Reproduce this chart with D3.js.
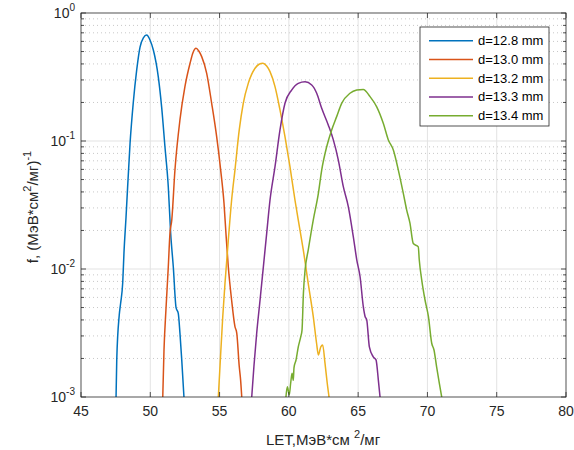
<!DOCTYPE html>
<html>
<head>
<meta charset="utf-8">
<script src="https://cdn.jsdelivr.net/npm/d3@7"></script>
<style>
  body { margin: 0; background: #fff; }
  svg { font-family: "Liberation Sans", Arial, sans-serif; }
</style>
</head>
<body>
<div id="vis"></div>
<script>
// LET values (MeV*cm2/mg) and distribution f for each depth
const let128 = [47.53, 47.58, 47.76, 47.86, 48.01, 48.10, 48.25, 48.54, 48.77, 49.02, 49.26, 49.50, 49.74, 49.98, 50.22, 50.58, 50.82, 51.06, 51.30, 51.47, 51.66, 51.86, 52.02, 52.14, 52.27, 52.43];
const f128 = [0.001, 0.00195, 0.00437, 0.0054, 0.0078, 0.0133, 0.0255, 0.096, 0.198, 0.359, 0.542, 0.640, 0.673, 0.615, 0.514, 0.316, 0.184, 0.0897, 0.0437, 0.0191, 0.0104, 0.0050, 0.0045, 0.00316, 0.00195, 0.001];

const let130 = [50.90, 50.99, 51.13, 51.30, 51.42, 51.55, 51.78, 52.14, 52.50, 52.87, 53.08, 53.30, 53.50, 53.71, 54.07, 54.43, 54.79, 55.08, 55.32, 55.46, 55.63, 55.87, 56.11, 56.24, 56.42, 56.52, 56.60];
const f130 = [0.001, 0.00234, 0.0048, 0.0104, 0.019, 0.0241, 0.0593, 0.146, 0.266, 0.405, 0.490, 0.530, 0.505, 0.456, 0.338, 0.197, 0.108, 0.0593, 0.0326, 0.019, 0.0104, 0.0057, 0.00355, 0.00316, 0.00173, 0.00135, 0.001];

const let132 = [54.91, 55.03, 55.23, 55.39, 55.63, 55.87, 56.11, 56.42, 56.71, 57.07, 57.56, 57.85, 58.13, 58.40, 58.64, 59.00, 59.36, 59.72, 60.08, 60.44, 60.80, 61.04, 61.40, 61.76, 62.00, 62.13, 62.30, 62.44, 62.61, 62.77, 62.90];
const f132 = [0.001, 0.00173, 0.00426, 0.0077, 0.0168, 0.0346, 0.0593, 0.122, 0.197, 0.282, 0.370, 0.398, 0.405, 0.385, 0.348, 0.266, 0.175, 0.108, 0.063, 0.0346, 0.0202, 0.0141, 0.0077, 0.00426, 0.00263, 0.00213, 0.00246, 0.00255, 0.00183, 0.00128, 0.001];

const let133 = [57.32, 57.48, 57.68, 57.92, 58.16, 58.40, 58.64, 59.00, 59.36, 59.72, 60.20, 60.68, 61.17, 61.65, 62.01, 62.37, 62.85, 63.21, 63.57, 63.93, 64.29, 64.65, 64.90, 65.14, 65.37, 65.50, 65.62, 65.81, 66.09, 66.29, 66.46, 66.58];
const f133 = [0.001, 0.00174, 0.00316, 0.0057, 0.0104, 0.019, 0.0346, 0.063, 0.122, 0.197, 0.25, 0.282, 0.290, 0.274, 0.236, 0.18, 0.133, 0.102, 0.071, 0.044, 0.0307, 0.0179, 0.0118, 0.0087, 0.0051, 0.00426, 0.0040, 0.00246, 0.00206, 0.00195, 0.00135, 0.001];

const let134 = [59.79, 59.89, 60.03, 60.13, 60.23, 60.32, 60.37, 60.52, 60.68, 60.86, 60.95, 61.05, 61.17, 61.40, 61.76, 62.13, 62.37, 62.73, 63.09, 63.45, 63.81, 64.41, 64.90, 65.37, 65.86, 66.34, 66.82, 67.18, 67.54, 67.90, 68.26, 68.50, 68.74, 68.98, 69.34, 69.41, 69.59, 69.83, 70.07, 70.31, 70.47, 70.66, 70.86, 71.03];
const f134 = [0.001, 0.0012, 0.00104, 0.00128, 0.00153, 0.00135, 0.00169, 0.00195, 0.00246, 0.00296, 0.00333, 0.00645, 0.0098, 0.0141, 0.0241, 0.039, 0.0593, 0.0902, 0.122, 0.155, 0.197, 0.236, 0.25, 0.253, 0.222, 0.185, 0.137, 0.102, 0.085, 0.0593, 0.039, 0.029, 0.0228, 0.0158, 0.0149, 0.0118, 0.0082, 0.0057, 0.00426, 0.00263, 0.00234, 0.00173, 0.00128, 0.001];

const seriesNames = ["d=12.8 mm", "d=13.0 mm", "d=13.2 mm", "d=13.3 mm", "d=13.4 mm"];
const seriesLet = [let128, let130, let132, let133, let134];
const seriesF = [f128, f130, f132, f133, f134];
const colours = ["#0072BD", "#D95319", "#EDB120", "#7E2F8E", "#77AC30"];

const xTicks = [45, 50, 55, 60, 65, 70, 75, 80];
const yExponents = [0, -1, -2, -3];

const width = 574;
const height = 450;
const plot = { left: 81, right: 566, top: 13, bottom: 397 };
const axisColour = "#262626";

const x = d3.scaleLinear().domain([45, 80]).range([plot.left, plot.right]);
const y = d3.scaleLog().domain([1e-3, 1]).range([plot.bottom, plot.top]);

const svg = d3.select("#vis").append("svg")
  .attr("width", width)
  .attr("height", height);

// minor y grid (dotted)
const minorY = [];
[-3, -2, -1].forEach((e) => {
  for (let m = 2; m <= 9; m++) minorY.push(m * Math.pow(10, e));
});
svg.append("g").selectAll("line").data(minorY).enter().append("line")
  .attr("x1", plot.left).attr("x2", plot.right)
  .attr("y1", (d) => y(d)).attr("y2", (d) => y(d))
  .attr("stroke", "#c8c8c8").attr("stroke-width", 1)
  .attr("stroke-dasharray", "1,3");

// major grid
svg.append("g").selectAll("line").data(xTicks.slice(1, -1)).enter().append("line")
  .attr("x1", (d) => x(d)).attr("x2", (d) => x(d))
  .attr("y1", plot.top).attr("y2", plot.bottom)
  .attr("stroke", "#e3e3e3").attr("stroke-width", 1);
svg.append("g").selectAll("line").data(yExponents.slice(1, -1)).enter().append("line")
  .attr("x1", plot.left).attr("x2", plot.right)
  .attr("y1", (d) => y(Math.pow(10, d))).attr("y2", (d) => y(Math.pow(10, d)))
  .attr("stroke", "#e3e3e3").attr("stroke-width", 1);

// curves
svg.append("clipPath").attr("id", "clip").append("rect")
  .attr("x", plot.left).attr("y", plot.top)
  .attr("width", plot.right - plot.left).attr("height", plot.bottom - plot.top);

const line = d3.line()
  .x((d) => x(d[0]))
  .y((d) => y(d[1]))
  .curve(d3.curveMonotoneX);
seriesNames.forEach((name, i) => {
  const pts = seriesLet[i].map((v, j) => [v, seriesF[i][j]]);
  svg.append("path")
    .attr("clip-path", "url(#clip)")
    .attr("d", line(pts))
    .attr("fill", "none")
    .attr("stroke", colours[i])
    .attr("stroke-width", 1.5)
    .attr("stroke-linejoin", "round");
});

// box
svg.append("rect")
  .attr("x", plot.left).attr("y", plot.top)
  .attr("width", plot.right - plot.left).attr("height", plot.bottom - plot.top)
  .attr("fill", "none").attr("stroke", axisColour).attr("stroke-width", 0.8);

// ticks (inside, all four sides)
const ticks = svg.append("g").attr("stroke", axisColour).attr("stroke-width", 0.8);
xTicks.forEach((t) => {
  ticks.append("line").attr("x1", x(t)).attr("x2", x(t)).attr("y1", plot.bottom).attr("y2", plot.bottom - 5);
  ticks.append("line").attr("x1", x(t)).attr("x2", x(t)).attr("y1", plot.top).attr("y2", plot.top + 5);
});
yExponents.forEach((e) => {
  const yy = y(Math.pow(10, e));
  ticks.append("line").attr("x1", plot.left).attr("x2", plot.left + 5).attr("y1", yy).attr("y2", yy);
  ticks.append("line").attr("x1", plot.right).attr("x2", plot.right - 5).attr("y1", yy).attr("y2", yy);
});
minorY.forEach((v) => {
  const yy = y(v);
  ticks.append("line").attr("x1", plot.left).attr("x2", plot.left + 3).attr("y1", yy).attr("y2", yy);
  ticks.append("line").attr("x1", plot.right).attr("x2", plot.right - 3).attr("y1", yy).attr("y2", yy);
});

// x tick labels
svg.append("g").selectAll("text").data(xTicks).enter().append("text")
  .attr("x", (d) => x(d)).attr("y", plot.bottom + 19)
  .attr("text-anchor", "middle")
  .attr("font-size", 14).attr("fill", axisColour)
  .text((d) => d);

// y tick labels 10^e
yExponents.forEach((e) => {
  const t = svg.append("text")
    .attr("x", plot.left - 6).attr("y", y(Math.pow(10, e)) + 5)
    .attr("text-anchor", "end")
    .attr("font-size", 14).attr("fill", axisColour);
  t.append("tspan").text("10");
  t.append("tspan").attr("dy", -7).attr("font-size", 10).text(e);
});

// axis titles
const xt = svg.append("text")
  .attr("x", 323).attr("y", 445)
  .attr("text-anchor", "middle")
  .attr("font-size", 15).attr("fill", axisColour);
xt.append("tspan").text("LET,МэВ*см ");
xt.append("tspan").attr("dy", -7).attr("font-size", 11).text("2");
xt.append("tspan").attr("dy", 7).text("/мг");

const yt = svg.append("text")
  .attr("transform", "translate(38,207) rotate(-90)")
  .attr("text-anchor", "middle")
  .attr("font-size", 15).attr("fill", axisColour);
yt.append("tspan").text("f, (МэВ*см");
yt.append("tspan").attr("dy", -7).attr("font-size", 11).text("2");
yt.append("tspan").attr("dy", 7).text("/мг)");
yt.append("tspan").attr("dy", -7).attr("font-size", 11).text("-1");

// legend
const legend = svg.append("g");
legend.append("rect")
  .attr("x", 420).attr("y", 27).attr("width", 129).attr("height", 99)
  .attr("fill", "#fff").attr("stroke", axisColour).attr("stroke-width", 0.8);
seriesNames.forEach((name, i) => {
  const ly = 40.7 + i * 18.75;
  legend.append("line")
    .attr("x1", 429).attr("x2", 473).attr("y1", ly).attr("y2", ly)
    .attr("stroke", colours[i]).attr("stroke-width", 1.5);
  legend.append("text")
    .attr("x", 478).attr("y", ly + 4.5)
    .attr("font-size", 13).attr("fill", "#000")
    .text(name);
});
</script>
</body>
</html>
